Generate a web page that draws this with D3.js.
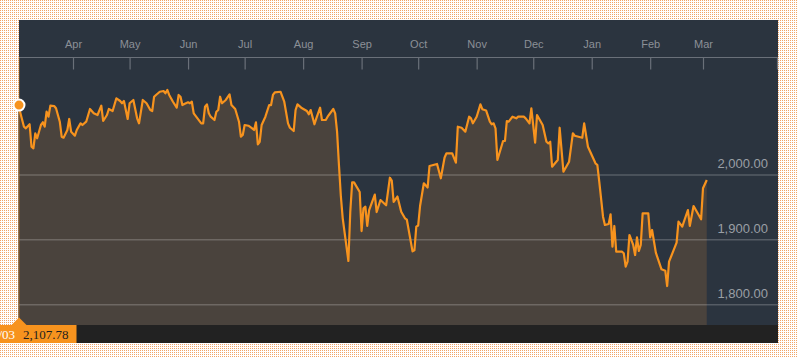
<!DOCTYPE html>
<html><head><meta charset="utf-8">
<script src="https://cdn.jsdelivr.net/npm/d3@7"></script>
<style>html,body{margin:0;padding:0;background:#fff;overflow:hidden}svg{display:block}</style>
</head><body>
<svg id="chart" width="797" height="358"></svg>
<script>
const dates = ["2014-03-03","2014-03-06","2014-03-07","2014-03-09","2014-03-10","2014-03-11","2014-03-12","2014-03-13","2014-03-15","2014-03-16","2014-03-17","2014-03-18","2014-03-19","2014-03-20","2014-03-22","2014-03-23","2014-03-25","2014-03-26","2014-03-27","2014-03-29","2014-03-30","2014-03-31",
"2014-04-02","2014-04-03","2014-04-05","2014-04-06","2014-04-08","2014-04-10","2014-04-12","2014-04-14","2014-04-16","2014-04-17","2014-04-19","2014-04-20","2014-04-22","2014-04-24","2014-04-26","2014-04-27","2014-04-28","2014-04-30",
"2014-05-01","2014-05-03","2014-05-05","2014-05-06","2014-05-08","2014-05-10","2014-05-12","2014-05-13","2014-05-14","2014-05-15","2014-05-17","2014-05-19","2014-05-20","2014-05-21","2014-05-22","2014-05-24","2014-05-26","2014-05-27","2014-05-28","2014-05-29","2014-05-30",
"2014-06-01","2014-06-02","2014-06-03","2014-06-04","2014-06-06","2014-06-08","2014-06-09","2014-06-10","2014-06-11","2014-06-12","2014-06-13","2014-06-15","2014-06-16","2014-06-17","2014-06-18","2014-06-19","2014-06-21","2014-06-23","2014-06-24","2014-06-26","2014-06-28","2014-06-29","2014-06-30",
"2014-07-01","2014-07-03","2014-07-05","2014-07-06","2014-07-07","2014-07-08","2014-07-09","2014-07-10","2014-07-12","2014-07-14","2014-07-15","2014-07-16","2014-07-17","2014-07-20","2014-07-21","2014-07-22","2014-07-24","2014-07-25","2014-07-27","2014-07-28","2014-07-29","2014-07-31",
"2014-08-03","2014-08-04","2014-08-05","2014-08-07","2014-08-08","2014-08-10","2014-08-11","2014-08-13","2014-08-14","2014-08-17","2014-08-18","2014-08-19","2014-08-20","2014-08-21","2014-08-22","2014-08-25","2014-08-26","2014-08-27","2014-08-28","2014-08-31",
"2014-09-01","2014-09-02","2014-09-03","2014-09-04","2014-09-05","2014-09-08","2014-09-09","2014-09-11","2014-09-14","2014-09-16","2014-09-17","2014-09-18","2014-09-20","2014-09-22","2014-09-24","2014-09-25","2014-09-28","2014-09-29","2014-09-30",
"2014-10-01","2014-10-02","2014-10-04","2014-10-06","2014-10-07","2014-10-11","2014-10-13","2014-10-15","2014-10-16","2014-10-19","2014-10-21","2014-10-22","2014-10-24","2014-10-26","2014-10-28","2014-10-29","2014-10-30",
"2014-11-01","2014-11-03","2014-11-04","2014-11-06","2014-11-08","2014-11-09","2014-11-10","2014-11-11","2014-11-12","2014-11-15","2014-11-16","2014-11-17","2014-11-18","2014-11-20","2014-11-22","2014-11-23","2014-11-26","2014-11-27","2014-11-29","2014-11-30",
"2014-12-02","2014-12-03","2014-12-06","2014-12-08","2014-12-09","2014-12-10","2014-12-11","2014-12-14","2014-12-15","2014-12-17","2014-12-20","2014-12-22","2014-12-23","2014-12-27","2014-12-28","2014-12-30",
"2015-01-03","2015-01-04","2015-01-05","2015-01-07","2015-01-08","2015-01-10","2015-01-11","2015-01-12","2015-01-13","2015-01-14","2015-01-17","2015-01-18","2015-01-19","2015-01-20","2015-01-21","2015-01-23","2015-01-24","2015-01-25","2015-01-26","2015-01-27","2015-01-28","2015-01-31",
"2015-02-01","2015-02-02","2015-02-04","2015-02-07","2015-02-09","2015-02-10","2015-02-11","2015-02-15","2015-02-16","2015-02-18","2015-02-21","2015-02-22","2015-02-24","2015-02-28",
"2015-03-01","2015-03-03"];
const closes = [2107.78,2074.5,2072.0,2078.2,2043.6,2041.2,2064.3,2056.6,2077.1,2081.3,2074.5,2097.6,2089.9,2106.9,2106.4,2102.9,2082.2,2059.1,2057.5,2069.4,2086.4,2066.8,
2060.6,2069.4,2079.7,2077.1,2082.2,2101.8,2095.1,2092.5,2106.9,2083.3,2092.5,2101.8,2098.7,2118.3,2114.1,2110.6,2114.1,2086.4,
2110.6,2115.7,2087.4,2079.7,2115.7,2110.6,2100.2,2098.7,2120.7,2123.4,2128.4,2129.5,2126.0,2131.1,2123.4,2113.0,2103.8,2123.4,2120.7,2107.9,2109.5,
2112.1,2110.6,2113.0,2095.1,2087.4,2079.7,2079.7,2105.3,2109.0,2095.1,2089.9,2084.8,2097.6,2100.2,2120.7,2110.6,2115.7,2124.4,2107.9,2101.8,2082.2,2059.1,2061.7,
2077.1,2076.0,2072.0,2069.4,2081.3,2047.3,2051.3,2077.1,2089.9,2107.9,2107.9,2123.4,2127.5,2128.4,2120.7,2113.0,2079.7,2072.9,2067.8,2100.2,2109.0,2103.8,
2098.7,2093.6,2100.2,2078.2,2087.4,2103.8,2084.8,2084.8,2089.9,2101.8,2095.1,2066.8,2015.4,1967.6,1933.2,1867.4,1943.4,1988.7,1988.7,1973.8,
1913.6,1948.7,1951.1,1921.4,1946.0,1969.9,1942.9,1961.4,1953.3,1995.8,1991.5,1958.4,1966.8,1943.4,1933.2,1931.1,1882.3,1883.9,1920.3,
1922.1,1952.2,1987.2,1980.7,2013.9,2017.0,1994.9,2027.0,2033.5,2033.5,2019.0,2074.5,2072.9,2066.8,2089.9,2087.4,2079.7,
2089.9,2109.0,2101.5,2099.5,2082.2,2078.2,2079.7,2072.0,2023.1,2052.4,2052.4,2083.3,2082.2,2089.9,2087.4,2089.9,2089.9,2087.4,2079.7,2102.9,
2049.8,2092.5,2077.1,2051.3,2048.9,2051.3,2012.8,2023.1,2072.9,2005.1,2020.5,2064.3,2060.6,2057.5,2079.7,2043.6,
2018.0,2015.4,1989.7,1935.7,1922.9,1924.4,1939.4,1889.4,1921.4,1881.7,1881.7,1879.3,1858.6,1866.3,1907.5,1892.1,1876.6,1903.9,1882.8,1892.1,1940.9,1940.9,
1903.9,1915.2,1880.2,1854.6,1852.4,1828.8,1866.3,1895.6,1928.0,1920.3,1946.0,1921.4,1952.2,1931.7,
1979.5,1992.3];
const yTicks = [1800, 1900, 2000];
const startLabel = "03/03";
const startValueLabel = "2,107.78";

const parse = d3.timeParse("%Y-%m-%d");
const data = dates.map((d, i) => ({date: parse(d), value: closes[i]}));

const svg = d3.select("#chart");
const W = 797, H = 358;
const panel = {x0: 19, x1: 778, y0: 20, y1: 343};
const axisY = 57.5, plotBottom = 325;

// background dot pattern
const defs = svg.append("defs");
const pat = defs.append("pattern").attr("id", "dots").attr("width", 2).attr("height", 2).attr("patternUnits", "userSpaceOnUse");
pat.append("rect").attr("width", 2).attr("height", 2).attr("fill", "#ffffff");
pat.append("rect").attr("width", 1).attr("height", 1).attr("fill", "#f1a467");
svg.append("rect").attr("width", W).attr("height", H).attr("fill", "url(#dots)");

// panel
svg.append("rect").attr("x", panel.x0).attr("y", panel.y0)
  .attr("width", panel.x1 - panel.x0).attr("height", panel.y1 - panel.y0).attr("fill", "#2b343f");

// scales
const x = d3.scaleTime().domain([new Date(2014, 3, 1), new Date(2015, 2, 1)]).range([73, 703]);
x.domain([x.invert(panel.x0 - 0.7), x.invert(panel.x1)]).range([panel.x0 - 0.7, panel.x1]);
const y = d3.scaleLinear().domain([1800, 2000]).range([304.7, 175]);

// area
const area = d3.area().x(d => x(d.date)).y0(plotBottom).y1(d => y(d.value));
svg.append("path").datum(data).attr("d", area).attr("fill", "#4a433d");

// gridlines and y labels
const grid = svg.append("g");
grid.selectAll("line").data(yTicks).join("line")
  .attr("x1", panel.x0).attr("x2", panel.x1)
  .attr("y1", d => y(d)).attr("y2", d => y(d))
  .attr("stroke", "rgba(255,255,255,0.2)").attr("stroke-width", 1.5);
const fmt = d3.format(",.2f");
grid.selectAll("text").data(yTicks).join("text")
  .attr("x", 768).attr("y", d => y(d) - 7)
  .attr("text-anchor", "end")
  .attr("font-family", "Liberation Sans, Arial, sans-serif").attr("font-size", 13)
  .attr("fill", "#9a9fa5")
  .text(d => fmt(d));

// line
const line = d3.line().x(d => x(d.date)).y(d => y(d.value));
svg.append("path").datum(data).attr("d", line)
  .attr("fill", "none").attr("stroke", "#f7931e").attr("stroke-width", 2.2).attr("stroke-linejoin", "round");

// top axis
const monthTicks = d3.timeMonth.range(new Date(2014, 3, 1), new Date(2015, 2, 2));
const axis = d3.axisBottom(x).tickValues(monthTicks).tickFormat(d3.timeFormat("%b")).tickSize(12).tickPadding(0);
const ag = svg.append("g").attr("transform", `translate(0,${axisY})`).call(axis);
ag.select(".domain").remove();
ag.selectAll(".tick line").attr("stroke", "#6a7079").attr("stroke-width", 1.2);
ag.selectAll(".tick text").attr("y", -10).attr("dy", 0)
  .attr("font-family", "Liberation Sans, Arial, sans-serif").attr("font-size", 11).attr("fill", "#8b9097");
svg.append("line").attr("x1", panel.x0).attr("x2", panel.x1).attr("y1", axisY).attr("y2", axisY)
  .attr("stroke", "#6a7079").attr("stroke-width", 1.2);
svg.append("line").attr("x1", x(x.domain()[1]) - 0.5).attr("x2", x(x.domain()[1]) - 0.5)
  .attr("y1", axisY).attr("y2", axisY + 12).attr("stroke", "#6a7079").attr("stroke-width", 1.2);

// bottom bar
svg.append("rect").attr("x", panel.x0).attr("y", plotBottom)
  .attr("width", panel.x1 - panel.x0).attr("height", panel.y1 - plotBottom).attr("fill", "#222222");

// hover marker
const first = data[0];
const fx = x(first.date) + 0.7;
svg.append("line").attr("x1", fx).attr("x2", fx).attr("y1", axisY).attr("y2", plotBottom)
  .attr("stroke", "#e8912c").attr("stroke-width", 1).attr("stroke-dasharray", "1,1");
svg.append("rect").attr("x", 0).attr("y", plotBottom).attr("width", 76.5).attr("height", panel.y1 - plotBottom).attr("fill", "#f7931e");
svg.append("path").attr("d", `M${fx - 8},${plotBottom + 0.5}L${fx},${plotBottom - 7.5}L${fx + 8},${plotBottom + 0.5}Z`).attr("fill", "#f7931e");
svg.append("text").attr("x", 15).attr("y", 339).attr("text-anchor", "end")
  .attr("font-family", "Liberation Serif, serif").attr("font-size", 13).attr("fill", "#ffffff").text(startLabel);
svg.append("text").attr("x", 23).attr("y", 339)
  .attr("font-family", "Liberation Serif, serif").attr("font-size", 13).attr("fill", "#1e1e1e").text(startValueLabel);
svg.append("circle").attr("cx", fx).attr("cy", y(first.value)).attr("r", 5.5)
  .attr("fill", "#f7931e").attr("stroke", "#ffffff").attr("stroke-width", 2);
</script>
</body></html>
